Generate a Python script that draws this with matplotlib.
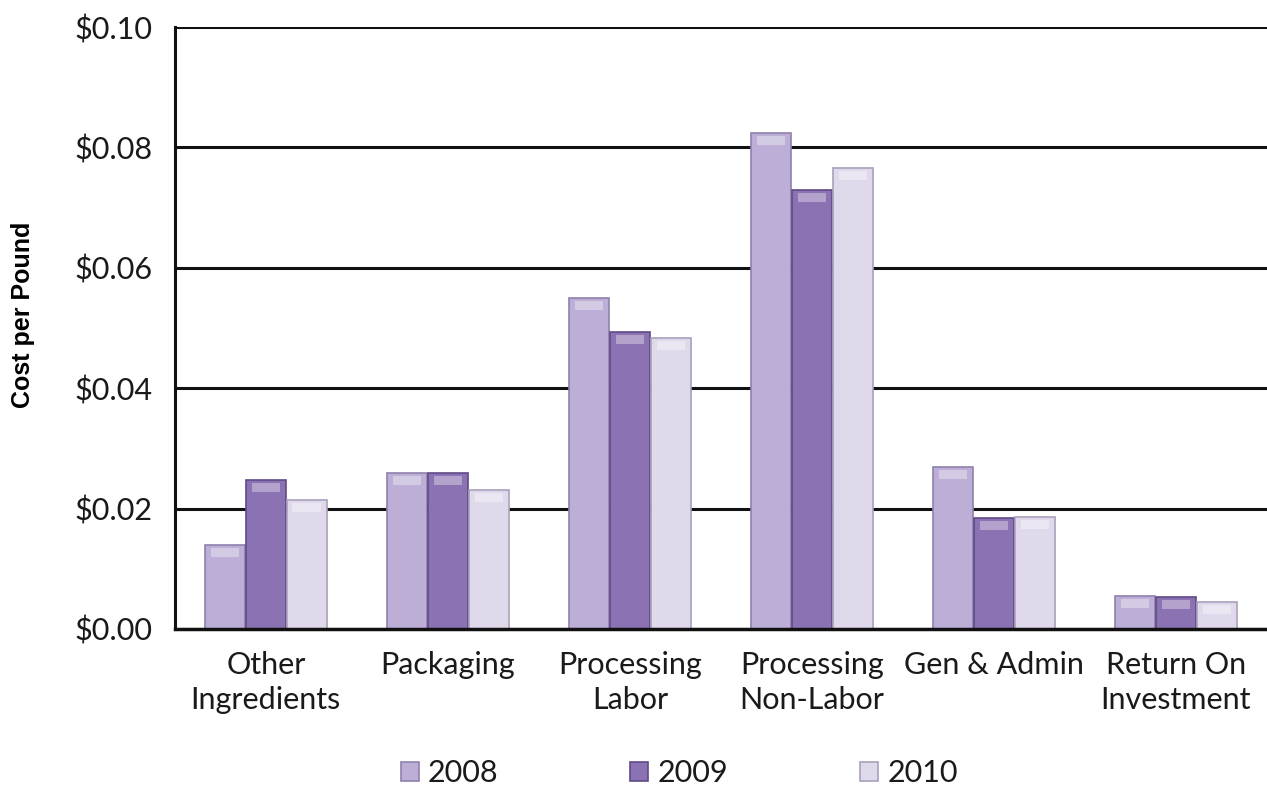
import matplotlib
matplotlib.use("Agg")
import matplotlib.pyplot as plt
import numpy as np

# Cost per pound by category and year
categories = ["Other\nIngredients", "Packaging", "Processing\nLabor",
              "Processing\nNon-Labor", "Gen & Admin", "Return On\nInvestment"]
years = ["2008", "2009", "2010"]
cost_2008 = [0.0139, 0.0259, 0.0550, 0.0824, 0.0269, 0.0055]
cost_2009 = [0.0248, 0.0259, 0.0493, 0.0729, 0.0184, 0.0053]
cost_2010 = [0.0214, 0.0231, 0.0483, 0.0766, 0.0186, 0.0045]

colors = ["#bcaed6", "#8b72b2", "#e0d9ec"]
edges = ["#8f80ad", "#5f4a86", "#a9a0bb"]

plt.rcParams["font.family"] = ["Lato", "DejaVu Sans"]

fig = plt.figure(figsize=(12.67, 7.88), dpi=100)
ax = fig.add_axes([0.138, 0.2018, 0.862, 0.7639])

x = np.arange(len(categories))
width = 0.225
series = [cost_2008, cost_2009, cost_2010]
for i, (vals, yr) in enumerate(zip(series, years)):
    ax.bar(x + (i - 1) * width, vals, width * 0.97, color=colors[i],
           edgecolor=edges[i], linewidth=1.2, label=yr, zorder=3)
    # soft bevel highlight near the top of each bar
    ax.bar(x + (i - 1) * width, [0.0015] * len(vals), width * 0.7,
           bottom=[v - 0.0020 for v in vals], color="white", alpha=0.35,
           linewidth=0, zorder=4)

ax.set_xlim(-0.5, 5.5)
ax.set_ylim(0, 0.10)
ticks = np.arange(0, 0.101, 0.02)
ax.set_yticks(ticks)
ax.set_yticklabels([f"${v:.2f}" for v in ticks], fontsize=22, color="#1a1a1a")
ax.set_xticks(x)
ax.set_xticklabels(categories, fontsize=22, color="#1a1a1a", linespacing=1.3)
ax.tick_params(axis="both", length=0)
ax.tick_params(axis="y", pad=16)
ax.tick_params(axis="x", pad=16)

ax.yaxis.grid(True, color="#111111", linewidth=2.2, zorder=1)
ax.set_axisbelow(True)
for side in ["top", "right"]:
    ax.spines[side].set_visible(False)
ax.spines["left"].set_linewidth(2.2)
ax.spines["left"].set_color("#111111")
ax.spines["bottom"].set_linewidth(2.5)
ax.spines["bottom"].set_color("#111111")
ax.spines["bottom"].set_zorder(5)

fig.text(0.018, 0.6, "Cost per Pound", rotation=90, ha="center", va="center",
         fontsize=18, fontweight="bold", family="Liberation Sans")

handles, labels = ax.get_legend_handles_labels()
leg = fig.legend(handles[:3], labels[:3], loc="center", bbox_to_anchor=(0.536, 0.019),
                 ncol=3, frameon=False, handlelength=0.6, handleheight=0.6,
                 handletextpad=0.3, columnspacing=4.3, prop={"size": 22})
for t in leg.get_texts():
    t.set_color("#1a1a1a")

fig.savefig("out.png", dpi=100)
